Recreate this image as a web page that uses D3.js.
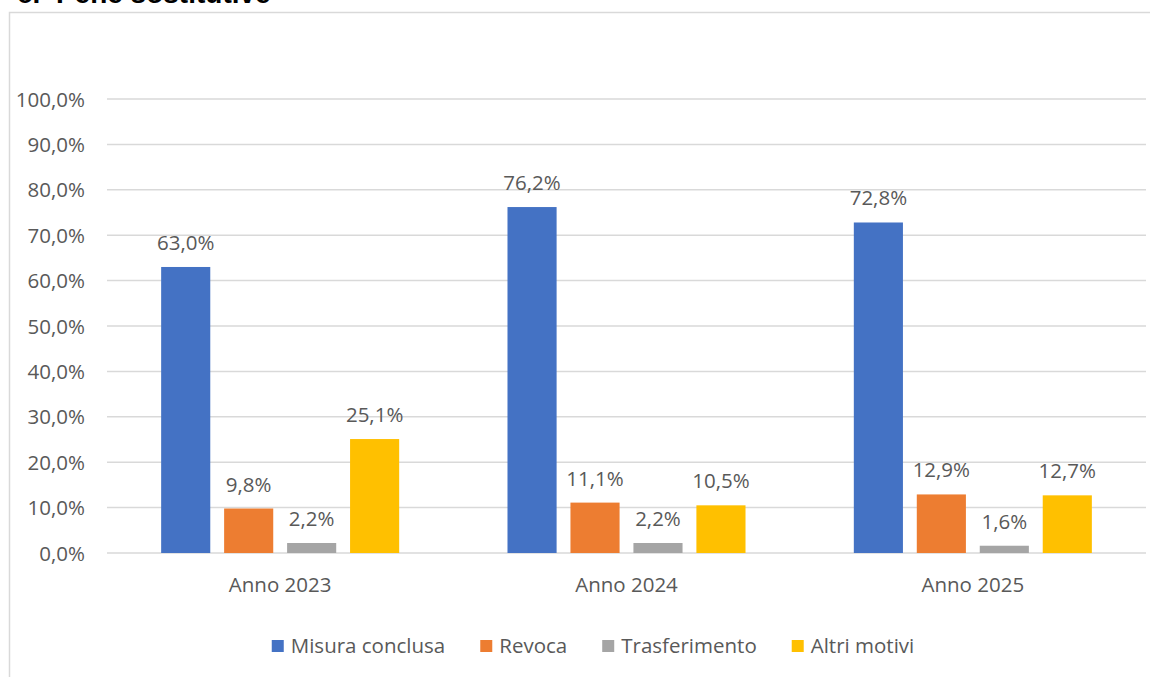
<!DOCTYPE html>
<html><head><meta charset="utf-8">
<script src="https://cdn.jsdelivr.net/npm/d3@7"></script>
<style>
html,body{margin:0;padding:0;background:#fff;}
svg{display:block;}
</style></head>
<body>
<svg id="chart" width="1150" height="677"></svg>
<script>
const categories = ["Anno 2023", "Anno 2024", "Anno 2025"];
const seriesNames = ["Misura conclusa", "Revoca", "Trasferimento", "Altri motivi"];
const misuraConclusa = [63.0, 76.2, 72.8];
const revoca = [9.8, 11.1, 12.9];
const trasferimento = [2.2, 2.2, 1.6];
const altriMotivi = [25.1, 10.5, 12.7];
const seriesColors = ["#4472C4", "#ED7D31", "#A5A5A5", "#FFC000"];
const yTicks = [0, 10, 20, 30, 40, 50, 60, 70, 80, 90, 100];
const titleText = "c.  Pene sostitutive";

const seriesValues = [misuraConclusa, revoca, trasferimento, altriMotivi];
const fmt = v => d3.format(".1f")(v).replace(".", ",") + "%";
const FONT = "'Open Sans', 'Noto Sans', sans-serif";
const TXT = "#595959";

const svg = d3.select("#chart");

// partially visible heading above the chart (cut off at the top, as in the reference)
svg.append("text").attr("x", 17).attr("y", 3)
  .attr("font-family", "'Liberation Sans', Arial, sans-serif")
  .attr("font-weight", "bold").attr("font-size", 28).attr("fill", "#000")
  .attr("xml:space", "preserve").style("white-space", "pre")
  .text(titleText);

// chart area border
svg.append("rect").attr("x", 9.5).attr("y", 12.5).attr("width", 1200).attr("height", 700)
  .attr("fill", "#fff").attr("stroke", "#d9d9d9").attr("stroke-width", 1.5);

const plot = {left: 107, right: 1146, top: 99, bottom: 553};
const y = d3.scaleLinear().domain([0, 100]).range([plot.bottom, plot.top]);
const x0 = d3.scaleBand().domain(categories).range([plot.left, plot.right]).padding(0);
const x1 = d3.scaleBand().domain(seriesNames).range([0, x0.bandwidth()])
  .paddingInner(0.22).paddingOuter(0.86);

// gridlines
svg.append("g").selectAll("line").data(yTicks).join("line")
  .attr("x1", plot.left).attr("x2", plot.right)
  .attr("y1", d => y(d)).attr("y2", d => y(d))
  .attr("stroke", "#d9d9d9").attr("stroke-width", 1.5);

// y axis labels
const yAxis = d3.axisLeft(y).tickValues(yTicks).tickSize(0).tickPadding(0).tickFormat(fmt);
const gy = svg.append("g").attr("transform", `translate(${plot.left - 22},0)`).call(yAxis);
gy.select(".domain").remove();
gy.selectAll("text").attr("font-family", FONT).attr("font-size", 20.5).attr("fill", TXT).attr("dy", "0.35em");

// x axis labels
const xAxis = d3.axisBottom(x0).tickSize(0).tickPadding(0);
const gx = svg.append("g").attr("transform", `translate(0,${plot.bottom})`).call(xAxis);
gx.select(".domain").remove();
gx.selectAll("text").attr("font-family", FONT).attr("font-size", 20.5).attr("fill", TXT)
  .attr("y", 39).attr("dy", 0);

// bars
const data = [];
categories.forEach((c, i) => seriesNames.forEach((s, j) => data.push({c, s, j, v: seriesValues[j][i]})));
const bars = svg.append("g");
bars.selectAll("rect").data(data).join("rect")
  .attr("x", d => x0(d.c) + x1(d.s))
  .attr("width", x1.bandwidth())
  .attr("y", d => y(d.v))
  .attr("height", d => y(0) - y(d.v))
  .attr("fill", d => seriesColors[d.j]);

bars.selectAll("text").data(data).join("text")
  .attr("x", d => x0(d.c) + x1(d.s) + x1.bandwidth() / 2)
  .attr("y", d => y(d.v) - 17)
  .attr("text-anchor", "middle")
  .attr("font-family", FONT).attr("font-size", 20.5).attr("fill", TXT)
  .text(d => fmt(d.v));

// legend
const legend = svg.append("g").attr("transform", "translate(0,646)");
const items = legend.selectAll("g").data(seriesNames).join("g");
items.append("rect").attr("width", 12).attr("height", 12).attr("y", -6)
  .attr("fill", (d, i) => seriesColors[i]);
items.append("text").attr("x", 19).attr("y", 0).attr("dy", "0.35em")
  .attr("font-family", FONT).attr("font-size", 20.5).attr("fill", TXT).text(d => d);
const gap = 35;
const widths = items.nodes().map(n => n.getBBox().width);
const total = d3.sum(widths) + gap * (widths.length - 1);
let cx = 593 - total / 2;
items.each(function(d, i) {
  d3.select(this).attr("transform", `translate(${cx},0)`);
  cx += widths[i] + gap;
});
</script>
</body></html>
